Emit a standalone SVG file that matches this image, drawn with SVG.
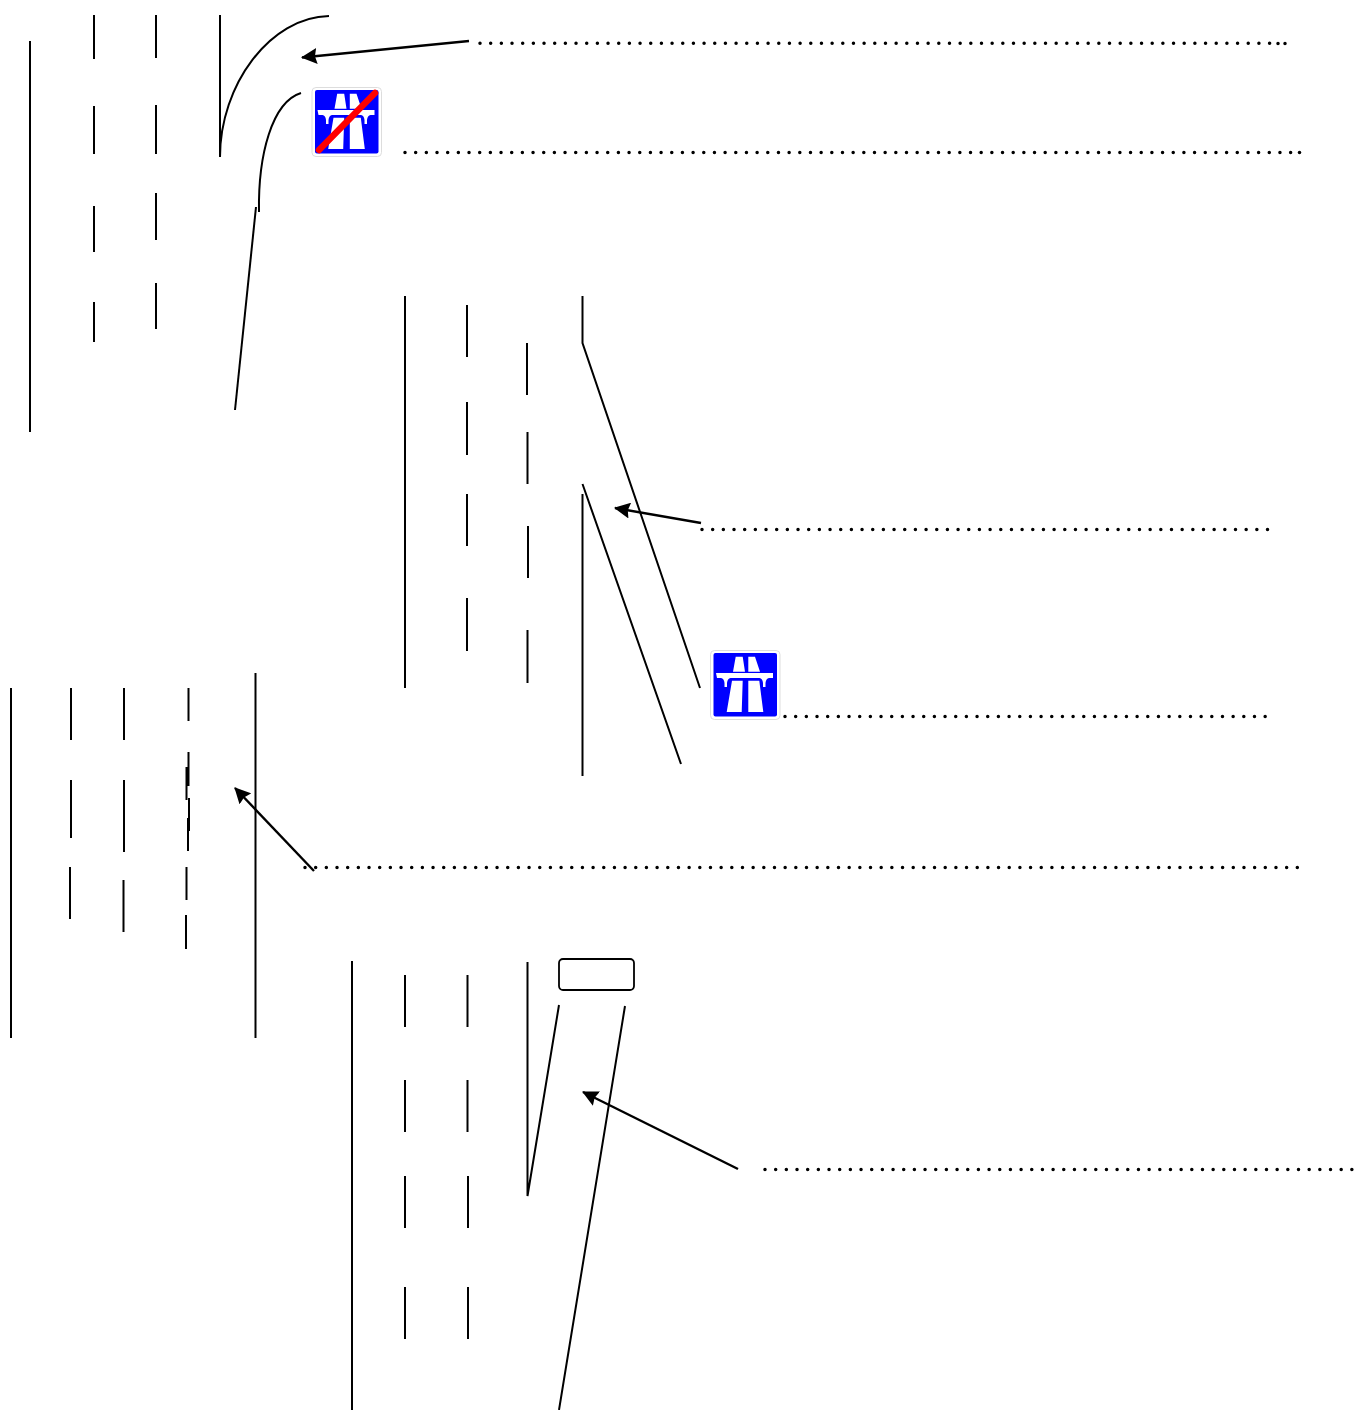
<svg xmlns="http://www.w3.org/2000/svg" width="1359" height="1410" viewBox="0 0 1359 1410">
<style>
.l{fill:none;stroke:#000;stroke-width:2;stroke-linecap:butt}
.a{fill:none;stroke:#000;stroke-width:2.4}
.d{fill:none;stroke:#000;stroke-width:3.500;stroke-linecap:round;stroke-dasharray:0 10.67}
.w{fill:#fff}
</style>
<defs>
<marker id="ah" markerUnits="userSpaceOnUse" markerWidth="16" markerHeight="16" refX="15" refY="8" orient="auto"><path d="M0 0L16 8L0 16L2 8Z" fill="#000"/></marker>
<g id="road">
<rect x="0.500" y="0.500" width="69.500" height="69" rx="4" fill="#fff" stroke="#ddd"/>
<rect x="3.500" y="3" width="63.500" height="63.500" rx="2" fill="#00f"/>
<path class="w" d="M25.700 6.700h7l2.300 15h-12zM38.300 6.700h6.700l5 15h-11.700zM6 23h57v5h-4q-3 .5-3.500 5v4h-2.500v-4q-.5-4.500-3.500-5h-29q-3 .5-3.500 5v4h-2.500v-4q-.5-4.500-3.500-5h-4zM22 30.700h10.700l-1 31.300h-15zM38.300 30.700h11l4 31.300h-15z"/>
</g>
</defs>
<g id="connectors">
<g id="road-lines">
<path class="l" d="M30 41V432M94 15V59M94 106V154M94 206V252M94 302V342M156 15V58M156 105V154M156 193V240M156 283V329M220 15V157"/>
<path class="l" d="M220 157C220 85 270 17 329 16"/>
<path class="l" d="M259 212C258 155 272 102 301 93"/>
<path class="l" d="M256 207L235 410"/>
<path class="l" d="M405 296V688M467 305V357M467 402V455M467 494V546M467 598V651M527 343V395M527.500 432V484M528 526V578M527.500 630V683M582.500 296V343L700 688M582.500 484L681 764M582.500 494V776"/>
<path class="l" d="M11 688V1038M71 688V740M71 780V838M70 867V919M124 688V740M124 780V852M123.500 880V932M188.500 688V721M188.500 752V786M186.500 767V800M189 798V831M188 818V851M186.500 867V900M186 915V949M255.500 673V1038"/>
<path class="l" d="M352 961V1410M405 975V1027M405 1080V1132M405 1176V1228M405 1287V1339M467.500 975V1027M467.500 1080V1132M468 1176V1228M468 1287V1339M527.500 962V1196L559 1005M625 1006L559 1410"/>
</g>
<g id="arrows">
<path class="a" d="M469 41L302 57.500" marker-end="url(#ah)"/>
<path class="a" d="M701 523L615 508" marker-end="url(#ah)"/>
<path class="a" d="M314 871L235 788" marker-end="url(#ah)"/>
<path class="a" d="M738 1169L583 1092" marker-end="url(#ah)"/>
</g>
<g id="dotted-lines">
<path class="d" d="M480 43.300H1272"/>
<path class="d" d="M1278 43.500h.01M1285 43.500h.01"/>
<path class="d" d="M405 152.500H1292"/>
<path class="d" d="M1299.500 152.500h.01"/>
<path class="d" d="M702 529.500H1270"/>
<path class="d" d="M785 716.500H1266"/>
<path class="d" d="M305 867.500H1298"/>
<path class="d" d="M765 1169.500H1354"/>
</g>
</g>
<g id="sign-end"><use href="#road" x="311.500" y="87"/>
<path d="M319 150L375 93" fill="none" stroke="#f00" stroke-width="6.500" stroke-linecap="round"/></g>
<g id="sign-start"><use href="#road" x="710" y="650"/></g>
<g id="blank-plate"><rect x="559" y="959" width="75" height="31" rx="4" fill="#fff" stroke="#000" stroke-width="1.800"/></g>
</svg>
